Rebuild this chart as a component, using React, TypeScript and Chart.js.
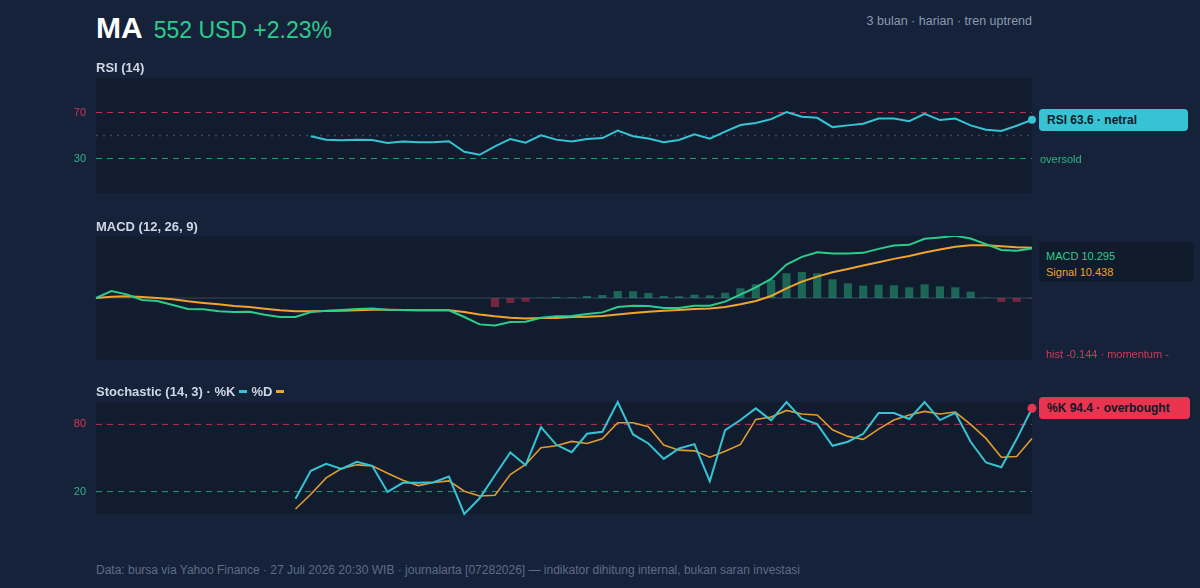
import React, { useEffect, useRef } from "react";
import { Chart, registerables } from "chart.js";

Chart.register(...registerables);

// ---------- data ----------
const days: string[] = Array.from({ length: 62 }, (_, i) => `H${i + 1}`);

const rsiValues: (number | null)[] = [
  null, null, null, null, null, null, null, null, null, null, null, null, null, null,
  49.3, 46.4, 45.8, 46.4, 46.1, 43.5, 44.7, 44.1, 44.1, 45.0,
  35.8, 33.2, 40.6, 47.0, 43.8, 50.1, 46.4, 44.7, 47.0, 47.8,
  54.2, 49.3, 47.3, 44.1, 46.1, 51.0, 47.3, 53.3, 59.1, 60.8,
  64.2, 70.3, 66.3, 65.4, 57.3, 58.8, 60.2, 64.8, 64.8, 62.5,
  68.8, 63.4, 64.8, 58.8, 55.0, 53.9, 58.5, 63.6,
];

const macdValues: number[] = [
  0, 1.46, 0.76, -0.42, -0.63, -1.46, -2.29, -2.36, -2.78, -2.92,
  -2.85, -3.48, -3.96, -3.96, -2.92, -2.64, -2.5, -2.29, -2.16, -2.43,
  -2.5, -2.57, -2.57, -2.57, -3.96, -5.49, -5.7, -5.01, -4.94, -4.1,
  -3.82, -3.76, -3.34, -2.99, -1.88, -1.6, -1.67, -2.09, -2.09, -1.6,
  -1.6, -0.76, 0.7, 2.23, 3.96, 6.95, 8.55, 9.53, 9.25, 9.25,
  9.39, 10.22, 10.92, 11.06, 12.31, 12.59, 12.93, 12.38, 11.2, 10.01,
  9.81, 10.295,
];

const signalValues: number[] = [
  0, 0.28, 0.35, 0.21, 0, -0.28, -0.7, -1.04, -1.32, -1.67,
  -1.88, -2.23, -2.57, -2.78, -2.78, -2.71, -2.64, -2.57, -2.43, -2.43,
  -2.5, -2.57, -2.57, -2.57, -2.92, -3.41, -3.82, -4.1, -4.24, -4.17,
  -4.17, -3.96, -3.89, -3.76, -3.41, -3.13, -2.85, -2.64, -2.5, -2.29,
  -2.16, -1.88, -1.32, -0.63, 0.42, 2.02, 3.41, 4.45, 5.35, 6.05,
  6.75, 7.44, 8.14, 8.76, 9.46, 10.08, 10.64, 10.99, 10.99, 10.78,
  10.57, 10.438,
];

const histValues: (number | null)[] = [
  null, null, null, null, null, null, null, null, null, null,
  null, null, null, null, null, null, null, null, null, null,
  null, null, null, null, null, null,
  -1.88, -1.04, -0.76, 0.07, 0.2, 0.14, 0.42, 0.63, 1.46, 1.39,
  1.04, 0.42, 0.35, 0.7, 0.56, 1.11, 2.02, 2.85, 3.76, 5.15,
  5.42, 5.15, 3.89, 3.06, 2.57, 2.78, 2.64, 2.23, 2.85, 2.43,
  2.23, 1.32, 0.07, -0.83, -0.83, -0.144,
];

const stochK: (number | null)[] = [
  null, null, null, null, null, null, null, null, null, null, null, null, null,
  13.7, 38.5, 44.8, 40.3, 46.6, 43.0, 19.7, 27.8, 27.8, 28.4,
  33.4, 0, 14.0, 34.6, 54.9, 43.6, 77.6, 61.8, 55.2, 71.6,
  73.4, 100, 71.0, 63.0, 49.2, 58.5, 62.4, 29.3, 74.9, 83.9,
  94.3, 83.6, 100, 85.1, 80.3, 60.9, 64.5, 71.6, 90.1, 90.1,
  84.8, 100, 83.9, 90.4, 64.5, 46.0, 41.8, 66.9, 94.4,
];

const stochD: (number | null)[] = [
  null, null, null, null, null, null, null, null, null, null, null, null, null,
  4.5, 17.6, 32.2, 40.6, 43.9, 43.0, 36.4, 30.1, 25.4, 28.1,
  29.6, 20.3, 16.1, 16.7, 35.2, 44.2, 59.1, 60.9, 64.8, 63.0,
  67.2, 81.5, 81.5, 77.9, 61.5, 57.0, 56.4, 50.7, 56.1, 62.1,
  84.5, 86.6, 92.5, 89.3, 88.4, 75.2, 69.3, 66.6, 75.8, 83.9,
  88.4, 91.6, 89.3, 91.0, 80.0, 67.5, 50.7, 51.3, 67.5,
];

const rsiTicks = [30, 70];
const rsiLevels = { upper: 70, mid: 50, lower: 30 };
const stochTicks = [20, 80];
const stochLevels = { upper: 80, lower: 20 };
const macdRange = 12.9;

// ---------- style ----------
const FONT = "'Liberation Sans', Arial, Helvetica, sans-serif";
const BG = "#15223a";
const PLOT_BG = "#111c2f";
const CYAN = "#36c4d4";
const GREEN = "#2ecc8c";
const ORANGE = "#f2a32b";
const ORANGE_D = "#e39b2d";
const RED = "#e8344e";
const TICK_RED = "#d23a55";
const TICK_GREEN = "#2fb585";
const GUIDE_RED = "#c0304b";
const GUIDE_GREEN = "#249a72";
const GUIDE_MID = "rgba(120,140,170,0.4)";
const LAST = days.length - 1;

Chart.defaults.font.family = FONT;

type Guide = { value: number; color: string; dash?: number[]; width?: number };

const areaBg = {
  id: "areaBg",
  beforeDraw(chart: any) {
    const { ctx, chartArea: a } = chart;
    ctx.save();
    ctx.fillStyle = PLOT_BG;
    ctx.fillRect(a.left, a.top, a.right - a.left, a.bottom - a.top);
    ctx.restore();
  },
};

function makeGuides(lines: Guide[]) {
  return {
    id: "guideLines",
    beforeDatasetsDraw(chart: any) {
      const { ctx, chartArea: a, scales } = chart;
      for (const g of lines) {
        const y = scales.y.getPixelForValue(g.value);
        ctx.save();
        ctx.strokeStyle = g.color;
        ctx.lineWidth = g.width || 1;
        ctx.setLineDash(g.dash || []);
        ctx.beginPath();
        ctx.moveTo(a.left, y);
        ctx.lineTo(a.right, y);
        ctx.stroke();
        ctx.restore();
      }
    },
  };
}

function yAxis(min: number, max: number, ticks: number[] | null, upper: number) {
  return {
    min,
    max,
    position: "left",
    afterFit(s: any) {
      s.width = 96;
      s.paddingTop = 0;
      s.paddingBottom = 0;
    },
    grid: { display: false, drawTicks: false },
    border: { display: false },
    afterBuildTicks(s: any) {
      if (ticks) s.ticks = ticks.map((v) => ({ value: v }));
    },
    ticks: {
      display: !!ticks,
      padding: 10,
      color: (c: any) => (c.tick && c.tick.value >= upper ? TICK_RED : TICK_GREEN),
      font: { size: 11, family: FONT },
    },
  };
}

function baseOptions(y: any) {
  return {
    responsive: false,
    animation: false,
    layout: { padding: { left: 0, right: 168, top: 10, bottom: 10 } },
    plugins: {
      legend: { display: false },
      tooltip: { enabled: false },
    },
    scales: {
      x: { type: "category", display: false, offset: false },
      y,
    },
  };
}

function rsiConfig(): any {
  return {
    type: "line",
    data: {
      labels: days,
      datasets: [
        {
          data: rsiValues,
          borderColor: CYAN,
          borderWidth: 2,
          tension: 0,
          clip: false,
          pointRadius: (c: any) => (c.dataIndex === LAST ? 4 : 0),
          pointBackgroundColor: CYAN,
          pointBorderWidth: 0,
        },
      ],
    },
    options: baseOptions(yAxis(0, 100, rsiTicks, 70)),
    plugins: [
      areaBg,
      makeGuides([
        { value: rsiLevels.upper, color: GUIDE_RED, dash: [6, 5] },
        { value: rsiLevels.mid, color: GUIDE_MID, dash: [2, 5], width: 1.5 },
        { value: rsiLevels.lower, color: GUIDE_GREEN, dash: [6, 5] },
      ]),
    ],
  };
}

function macdConfig(): any {
  return {
    type: "line",
    data: {
      labels: days,
      datasets: [
        {
          type: "line",
          data: macdValues,
          borderColor: GREEN,
          borderWidth: 2,
          tension: 0,
          pointRadius: 0,
          order: 0,
        },
        {
          type: "line",
          data: signalValues,
          borderColor: ORANGE,
          borderWidth: 2,
          tension: 0,
          pointRadius: 0,
          order: 1,
        },
        {
          type: "bar",
          data: histValues,
          backgroundColor: (c: any) =>
            c.raw != null && c.raw < 0 ? "rgba(232,52,78,0.45)" : "rgba(46,204,140,0.42)",
          barPercentage: 0.53,
          categoryPercentage: 1,
          order: 2,
        },
      ],
    },
    options: baseOptions(yAxis(-macdRange, macdRange, null, 0)),
    plugins: [areaBg, makeGuides([{ value: 0, color: "#2a3850", width: 1.5 }])],
  };
}

function stochConfig(): any {
  return {
    type: "line",
    data: {
      labels: days,
      datasets: [
        {
          data: stochK,
          borderColor: CYAN,
          borderWidth: 2,
          tension: 0,
          clip: false,
          pointRadius: (c: any) => (c.dataIndex === LAST ? 4.5 : 0),
          pointBackgroundColor: RED,
          pointBorderWidth: 0,
          order: 0,
        },
        {
          data: stochD,
          borderColor: ORANGE_D,
          borderWidth: 1.6,
          tension: 0,
          pointRadius: 0,
          order: 1,
        },
      ],
    },
    options: baseOptions(yAxis(0, 100, stochTicks, 80)),
    plugins: [
      areaBg,
      makeGuides([
        { value: stochLevels.upper, color: GUIDE_RED, dash: [6, 5] },
        { value: stochLevels.lower, color: GUIDE_GREEN, dash: [6, 5] },
      ]),
    ],
  };
}

function Panel({ top, height, make }: { top: number; height: number; make: () => any }) {
  const ref = useRef<HTMLCanvasElement>(null);
  useEffect(() => {
    const chart = new Chart(ref.current as HTMLCanvasElement, make());
    return () => chart.destroy();
  }, []);
  return (
    <canvas
      ref={ref}
      width={1200}
      height={height}
      style={{ position: "absolute", left: 0, top, width: 1200, height }}
    />
  );
}

function Txt(props: {
  x: number;
  top: number;
  size: number;
  color: string;
  weight?: number;
  right?: boolean;
  children: React.ReactNode;
}) {
  const { x, top, size, color, weight, right, children } = props;
  const style: React.CSSProperties = {
    position: "absolute",
    top,
    fontSize: size,
    lineHeight: `${size}px`,
    color,
    fontWeight: weight || 400,
    whiteSpace: "nowrap",
    fontFamily: FONT,
  };
  if (right) style.right = 1200 - x;
  else style.left = x;
  return <div style={style}>{children}</div>;
}

function Badge(props: { left: number; top: number; width: number; bg: string; children: React.ReactNode }) {
  return (
    <div
      style={{
        position: "absolute",
        left: props.left,
        top: props.top,
        width: props.width,
        height: 22,
        background: props.bg,
        borderRadius: 4,
        display: "flex",
        alignItems: "center",
        paddingLeft: 8,
        boxSizing: "border-box",
        fontFamily: FONT,
        fontSize: 12,
        fontWeight: 700,
        color: "#0e1828",
        whiteSpace: "nowrap",
      }}
    >
      {props.children}
    </div>
  );
}

function Swatch({ color }: { color: string }) {
  return (
    <span
      style={{
        display: "inline-block",
        width: 8,
        height: 3,
        background: color,
        verticalAlign: "middle",
        margin: "0 4px 0 4px",
        position: "relative",
        top: -1,
      }}
    />
  );
}

export default function App() {
  useEffect(() => {
    document.body.style.margin = "0";
    document.body.style.background = BG;
  }, []);
  return (
    <div
      style={{
        position: "absolute",
        left: 0,
        top: 0,
        width: 1200,
        height: 588,
        background: BG,
        overflow: "hidden",
        fontFamily: FONT,
      }}
    >
      <Panel top={68} height={135} make={rsiConfig} />
      <Panel top={226} height={144} make={macdConfig} />
      <Panel top={392} height={132} make={stochConfig} />

      <div
        style={{
          position: "absolute",
          left: 96,
          top: 13,
          display: "flex",
          alignItems: "baseline",
          whiteSpace: "nowrap",
          fontFamily: FONT,
        }}
      >
        <span style={{ fontSize: 30, lineHeight: "30px", fontWeight: 700, color: "#ffffff" }}>MA</span>
        <span style={{ fontSize: 23, lineHeight: "30px", color: GREEN, marginLeft: 11 }}>552 USD +2.23%</span>
      </div>
      <Txt x={1032} top={15} size={12.5} color="#8b9ab0" right>
        3 bulan · harian · tren uptrend
      </Txt>

      <Txt x={96} top={61} size={13} weight={700} color="#cdd6e3">
        RSI (14)
      </Txt>
      <Txt x={96} top={219.5} size={13} weight={700} color="#cdd6e3">
        MACD (12, 26, 9)
      </Txt>
      <Txt x={96} top={384.5} size={13} weight={700} color="#cdd6e3">
        Stochastic (14, 3) · %K
        <Swatch color={CYAN} />
        %D
        <Swatch color={ORANGE} />
      </Txt>

      <Badge left={1039} top={109} width={149} bg={CYAN}>
        RSI 63.6 · netral
      </Badge>
      <Txt x={1040} top={153.7} size={11} color={TICK_GREEN}>
        oversold
      </Txt>

      <div
        style={{
          position: "absolute",
          left: 1039,
          top: 242,
          width: 155,
          height: 40,
          background: "#101b2c",
          borderRadius: 4,
          boxSizing: "border-box",
          paddingLeft: 7,
          paddingTop: 6,
          fontFamily: FONT,
          fontSize: 11,
          lineHeight: "16px",
          whiteSpace: "nowrap",
        }}
      >
        <div style={{ color: GREEN }}>MACD 10.295</div>
        <div style={{ color: ORANGE }}>Signal 10.438</div>
      </div>
      <Txt x={1046} top={348.7} size={11} color={TICK_RED}>
        hist -0.144 · momentum -
      </Txt>

      <Badge left={1039} top={397} width={151} bg={RED}>
        %K 94.4 · overbought
      </Badge>

      <Txt x={96} top={563.8} size={12} color="#5d6c84">
        Data: bursa via Yahoo Finance · 27 Juli 2026 20:30 WIB · journalarta [07282026] — indikator dihitung internal,
        bukan saran investasi
      </Txt>
    </div>
  );
}
